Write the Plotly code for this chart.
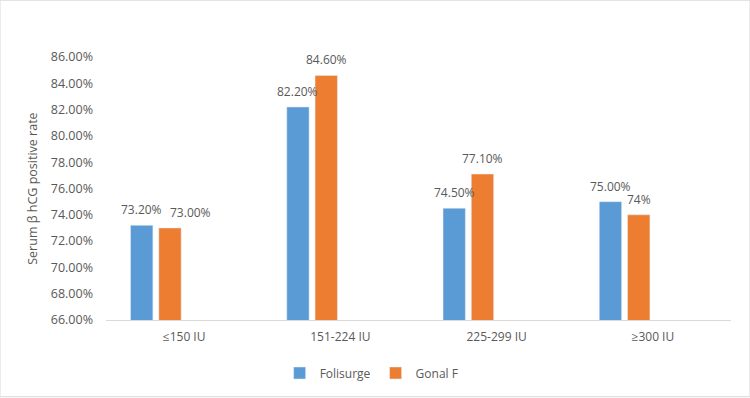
import plotly.graph_objects as go

categories = ["≤150 IU", "151-224 IU", "225-299 IU", "≥300 IU"]
folisurge = [73.2, 82.2, 74.5, 75.0]
gonal_f = [73.0, 84.6, 77.1, 74.0]
folisurge_labels = ["73.20%", "82.20%", "74.50%", "75.00%"]
gonal_f_labels = ["73.00%", "84.60%", "77.10%", "74%"]
y_ticks = [66, 68, 70, 72, 74, 76, 78, 80, 82, 84, 86]

FONT = "Open Sans"
GRAY = "#595959"
W, H = 750, 398
M = dict(l=106, r=19, t=57, b=77)
BARGAP, BARGROUPGAP, NSLOTS = 0.276, 0.21, 4

fig = go.Figure()
fig.add_trace(go.Bar(x=categories, y=folisurge, name="Folisurge", marker_color="#5B9BD5"))
fig.add_trace(go.Bar(x=categories, y=gonal_f, name="Gonal F", marker_color="#ED7D31"))
# empty series slots (as in the original chart)
for _ in range(2):
    fig.add_trace(go.Bar(x=categories, y=[None] * len(categories), showlegend=False,
                         hoverinfo="skip", marker_color="rgba(0,0,0,0)"))

# data labels placed above each bar (Excel-style, one nudged to avoid overlap)
cat_w = (W - M["l"] - M["r"]) / len(categories)
slot = cat_w * (1 - BARGAP) / NSLOTS
series = [(folisurge, folisurge_labels, -1.5), (gonal_f, gonal_f_labels, -0.5)]
nudge = {(1, 0): 21}
annotations = []
for si, (vals, labels, pos) in enumerate(series):
    for ci, (c, v, t) in enumerate(zip(categories, vals, labels)):
        annotations.append(dict(x=c, y=v, text=t, showarrow=False, xref="x", yref="y",
                                xanchor="center", yanchor="bottom",
                                xshift=pos * slot + nudge.get((si, ci), 0), yshift=5,
                                font=dict(size=12, color=GRAY, family=FONT)))
annotations.append(dict(text="Serum β hCG positive rate", textangle=-90,
                        x=-0.118, y=0.5, xanchor="center", yanchor="middle",
                        xref="paper", yref="paper", showarrow=False,
                        font=dict(size=12.5, color=GRAY, family=FONT)))

fig.update_layout(
    width=W, height=H,
    margin=M,
    paper_bgcolor="white", plot_bgcolor="white",
    barmode="group", bargap=BARGAP, bargroupgap=BARGROUPGAP,
    font=dict(family=FONT, size=12, color=GRAY),
    legend=dict(orientation="h", x=0.425, xanchor="center", y=-0.197, yanchor="middle",
                font=dict(size=12, color=GRAY, family=FONT), itemwidth=30,
                traceorder="normal"),
    xaxis=dict(showline=True, linecolor="#D9D9D9", linewidth=1, ticks="",
               showgrid=False, tickfont=dict(size=12, color=GRAY), ticklabelstandoff=6),
    yaxis=dict(range=[66, 86], tickvals=y_ticks, ticktext=[f"{v:.2f}%" for v in y_ticks],
               showgrid=False, zeroline=False, showline=False, ticks="",
               tickfont=dict(size=12.5, color=GRAY), ticklabelstandoff=12),
    annotations=annotations,
    shapes=[dict(type="rect", xref="paper", yref="paper", x0=-0.1696, x1=1.0304,
                 y0=-0.2917, y1=1.2159, line=dict(color="#D9D9D9", width=1))],
)

fig.write_html("out.html")
